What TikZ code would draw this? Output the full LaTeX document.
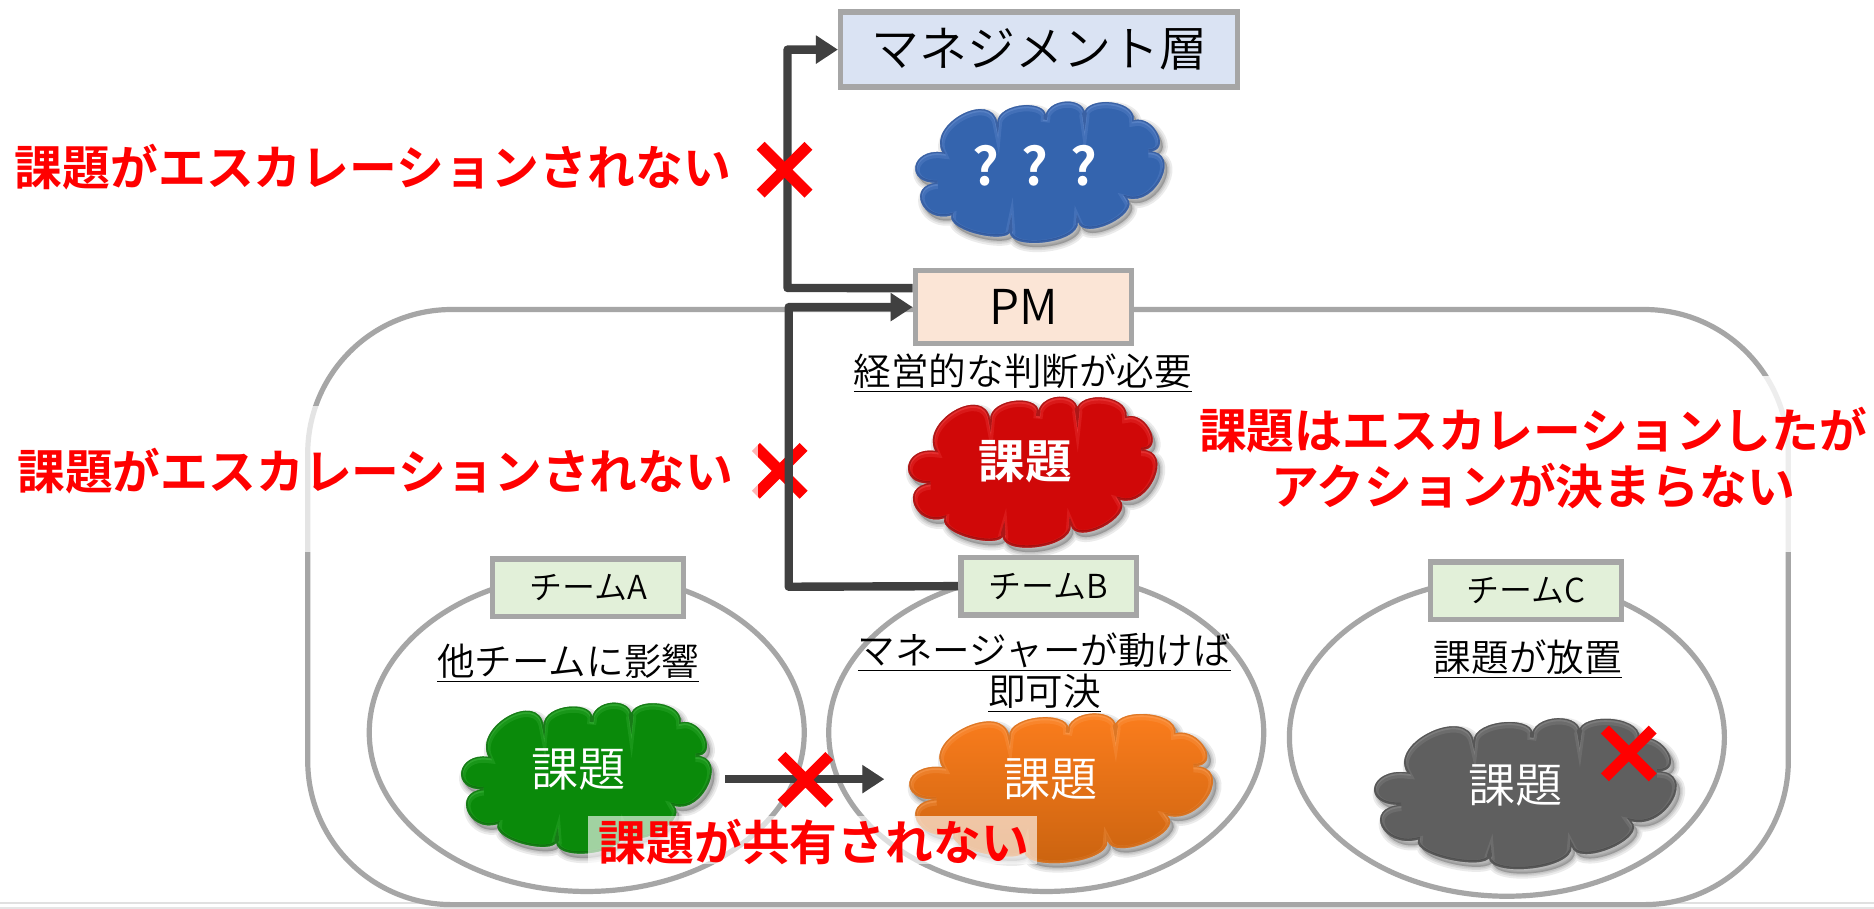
\documentclass[tikz,border=0pt]{standalone}
\usepackage{fontspec}
\setmainfont{Noto Sans CJK JP}[UprightFont=* DemiLight,BoldFont=* Bold]
\usetikzlibrary{arrows.meta,shapes.geometric,calc}
\def\U{0.5976pt}
\definecolor{rimgray}{HTML}{A6A6A6}
\definecolor{connector}{HTML}{404040}
\definecolor{mgmtfill}{HTML}{DAE3F3}
\definecolor{pmfill}{HTML}{FBE5D6}
\definecolor{teamfill}{HTML}{E2F0D9}
\definecolor{cblue}{HTML}{3464AE}\definecolor{cblueL}{HTML}{7FA3E0}\definecolor{cblueD}{HTML}{24488A}
\definecolor{cred}{HTML}{D00808}\definecolor{credL}{HTML}{FF6060}\definecolor{credD}{HTML}{800404}
\definecolor{cgreen}{HTML}{0A8A0A}\definecolor{cgreenL}{HTML}{55C855}\definecolor{cgreenD}{HTML}{065A06}
\definecolor{corange}{HTML}{FF7F1E}\definecolor{corangeL}{HTML}{FFB070}\definecolor{corangeD}{HTML}{C8620F}
\definecolor{cgray}{HTML}{5F5F5F}\definecolor{cgrayL}{HTML}{A0A0A0}\definecolor{cgrayD}{HTML}{3A3A3A}
% cloud outline built from bumps: start, end, apex (unit square, y down)
\gdef\cloudpath{(.11,.36)}
\newcommand\addbump[6]{%
  \pgfmathsetmacro\mx{(#1+#3)/2}\pgfmathsetmacro\my{(#2+#4)/2}%
  \pgfmathsetmacro\dx{(#5-\mx)/.75}\pgfmathsetmacro\dy{(#6-\my)/.75}%
  \pgfmathsetmacro\ex{.1*(#3-#1)}\pgfmathsetmacro\ey{.1*(#4-#2)}%
  \pgfmathsetmacro\cax{#1+\dx-\ex}\pgfmathsetmacro\cay{#2+\dy-\ey}%
  \pgfmathsetmacro\cbx{#3+\dx+\ex}\pgfmathsetmacro\cby{#4+\dy+\ey}%
  \xdef\cloudpath{\cloudpath .. controls (\cax,\cay) and (\cbx,\cby) .. (#3,#4)}}
\addbump{.11}{.36}{.333}{.155}{.19}{.09}
\addbump{.333}{.155}{.527}{.132}{.44}{.026}
\addbump{.527}{.132}{.687}{.121}{.613}{.0}
\addbump{.687}{.121}{.887}{.132}{.78}{.004}
\addbump{.887}{.132}{.947}{.353}{.985}{.23}
\addbump{.947}{.353}{.86}{.684}{1.}{.54}
\addbump{.86}{.684}{.66}{.85}{.79}{.865}
\addbump{.66}{.85}{.387}{.894}{.513}{1.}
\addbump{.387}{.894}{.147}{.806}{.267}{.945}
\addbump{.147}{.806}{.09}{.575}{.025}{.72}
\addbump{.09}{.575}{.11}{.36}{.0}{.46}
\newcommand\cloudshape[7]{% left, top, width, height, fill keys, light, dark
  \begin{scope}[shift={(#1,#2)},x=#3*\U,y=-#4*\U]
    \foreach \o/\w in {.03/5pt,.03/3pt,.03/1.5pt}
      \draw[draw=black,fill=black,opacity=.08,line width=\w,line join=round,
            shift={(.012,\o)}] \cloudpath -- cycle;
    \path[#5] \cloudpath -- cycle;
    \begin{scope}
      \clip \cloudpath -- cycle;
      \draw[#6,line width=4.5pt,opacity=.2,shift={(0,.012)}] \cloudpath -- cycle;
      \draw[#6,line width=2.2pt,opacity=.32,shift={(0,.006)}] \cloudpath -- cycle;
      \draw[#7,line width=1.8pt,opacity=.55,shift={(0,-.004)}] \cloudpath -- cycle;
    \end{scope}
  \end{scope}}
\newcommand\crossmark[3]{% centre x, y, half-size
  \draw[crossline] (#1-#3,#2-#3) -- (#1+#3,#2+#3) (#1-#3,#2+#3) -- (#1+#3,#2-#3);}
\tikzset{
  frameline/.style={draw=rimgray,line width=2.6pt},
  boxnode/.style={draw=rimgray,line width=2.8pt,inner sep=0pt,text=black},
  teambox/.style={boxnode,fill=teamfill,minimum width=160*\U,minimum height=48*\U,font=\fontsize{16.5pt}{18pt}\selectfont},
  teamring/.style={ellipse,frameline,inner sep=0pt,minimum width=364*\U,minimum height=266*\U},
  caption/.style={inner sep=0pt,align=center,font=\fontsize{18.8pt}{20.4pt}\selectfont},
  cloudtext/.style={inner sep=0pt,text=white,font=\fontsize{23.6pt}{26pt}\selectfont},
  redtext/.style={inner sep=0pt,text=red,align=center,font=\fontsize{23.9pt}{28pt}\selectfont\bfseries},
  crossline/.style={draw=red,line width=5.6pt},
  flow/.style={draw=connector,line width=4.2pt,line join=round,-{Triangle[width=13.5pt,length=11pt]},
    preaction={draw=black,opacity=.12,shift={(1.5,2.5)}}},
}
\begin{document}
\begin{tikzpicture}[x=\U,y=-\U]
\useasboundingbox (0,0) rectangle (1568.2,760.6);
\fill[white] (0,0) rectangle (1568.2,760.6);
% screen edge
\fill[black!12] (0,755) rectangle (1568.2,756.4);
\fill[black!10] (0,759.3) rectangle (1568.2,760.3);
% outer team frame
\node[rectangle,frameline,rounded corners=72pt,inner sep=0pt,minimum width=1239*\U,minimum height=498*\U] (frame) at (877,508) {};
% team rings
\node[teamring] (ringA) at (491,613) {};
\node[teamring] (ringB) at (875.5,613) {};
\node[teamring] (ringC) at (1261,617) {};
% clouds
\cloudshape{766}{85}{206}{118}{fill=cblue}{cblueL}{cblueD}
\cloudshape{760}{332}{206}{126}{fill=cred}{credL}{credD}
\cloudshape{386}{588}{207}{126}{fill=cgreen}{cgreenL}{cgreenD}
\cloudshape{761}{597}{251}{125}{top color=corange,middle color=corange,bottom color=corangeD}{corangeL}{corangeD}
\cloudshape{1150}{601}{250}{126}{fill=cgray}{cgrayL}{cgrayD}
% boxes
\node[boxnode,fill=mgmtfill,minimum width=332*\U,minimum height=63*\U,font=\fontsize{24pt}{26pt}\selectfont] (mgmt) at (869.5,41.5) {マネジメント層};
\node[boxnode,fill=pmfill,minimum width=181*\U,minimum height=61*\U,font=\fontsize{24pt}{26pt}\selectfont] (pm) at (856.5,257) {PM};
\node[teambox] (teamA) at (492,492) {チームA};
\node[teambox,minimum width=147*\U] (teamB) at (877.5,490.5) {チームB};
\node[teambox] (teamC) at (1277,494.5) {チームC};
% captions
\node[caption] (capPM) at (856,312) {\underline{経営的な判断が必要}};
\node[caption] (capA) at (475.5,555) {\underline{他チームに影響}};
\node[caption] (capB) at (874,563) {\underline{マネージャーが動けば}\\\underline{即可決}};
\node[caption] (capC) at (1278.5,552) {\underline{課題が放置}};
% cloud labels
\node[cloudtext,font=\fontsize{26pt}{28pt}\selectfont\bfseries] (qLabel) at (866,139) {?\hspace{.42em}?\hspace{.42em}?};
\node[cloudtext,font=\fontsize{23.3pt}{26pt}\selectfont\bfseries] (redLabel) at (858,386) {課題};
\node[cloudtext] (greenLabel) at (484,644) {課題};
\node[cloudtext] (orangeLabel) at (879,652) {課題};
\node[cloudtext] (grayLabel) at (1268,657) {課題};
% cross under the connector and under the translucent backing
\crossmark{652.5}{394}{20}
% connectors
\coordinate (pmOut) at ([yshift=9.5pt]pm.west);
\coordinate (elbowUp) at (659,241);
\coordinate (elbowIn) at (660,491);
\coordinate (shareFrom) at (607,652);
\coordinate (shareTo) at (740,652);
\draw[flow] (pmOut) -- (elbowUp) |- (mgmt.west);
\draw[flow] (teamB.west) -- (elbowIn) |- (pm.west);
\draw[flow] (shareFrom) -- (shareTo);
% translucent backings of the red labels
\fill[white,opacity=.7] (12,340) rectangle (634,462);
\fill[white,opacity=.8] (1003,315) rectangle (1563,462);
\fill[white,opacity=.62] (492,683) rectangle (868,723);
% red labels
\node[redtext] (noEsc1) at (312,140) {課題がエスカレーションされない};
\node[redtext] (noEsc2) at (314,394) {課題がエスカレーションされない};
\node[redtext] (noAction) at (1283,383.5) {課題はエスカレーションしたが\\アクションが決まらない};
\node[redtext] (noShare) at (681,705) {課題が共有されない};
% crosses
\crossmark{656.5}{142}{20}
\crossmark{674}{652.5}{20}
\crossmark{1363}{630.5}{20}
\end{tikzpicture}
\end{document}
